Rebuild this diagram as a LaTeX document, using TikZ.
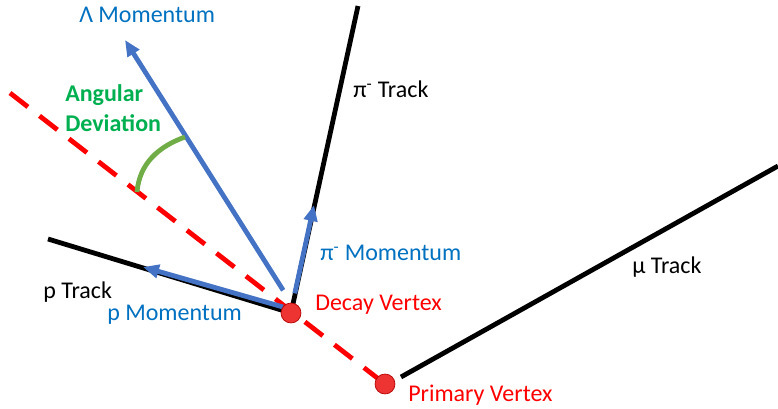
\documentclass[tikz,border=0pt]{standalone}
\usepackage{fontspec}
\setmainfont{Carlito}
\usetikzlibrary{arrows.meta}
\definecolor{momblue}{HTML}{4472C4}
\definecolor{labblue}{HTML}{0070C0}
\definecolor{devgreen}{HTML}{00B050}
\definecolor{arcgreen}{HTML}{70AD47}
\definecolor{vtxred}{HTML}{EE3333}

\begin{document}
\begin{tikzpicture}[x=0.75pt,y=0.75pt,
  track/.style={line width=3.6pt, black},
  momentum/.style={line width=3.6pt, momblue, -{Triangle[length=12pt,width=10pt]}},
  flight/.style={line width=3.6pt, red, dash pattern=on 17pt off 11pt},
  vertex/.style={circle, fill=vtxred, draw=red!70!black, line width=0.5pt, minimum size=15pt, inner sep=0pt},
  lbl/.style={anchor=base west, inner sep=0pt}]
\fontsize{18}{22.5}\selectfont
\useasboundingbox (0,0) rectangle (778,409);
\coordinate (dv) at (291,96);
\coordinate (pv) at (385,25);
\coordinate (far) at (10,316);
\coordinate (lamtip) at (125,369);
\coordinate (pitip) at (314,204);
\coordinate (piend) at (358,403);
\coordinate (ptip) at (143,142);
\coordinate (pend) at (48,170);
\coordinate (mustart) at (401,32);
\coordinate (muend) at (778,243);
\coordinate (arcA) at (137,217);
\coordinate (arcB) at (185,272);
\draw[flight] (far) -- (pv);
\draw[track] (dv) -- (piend);
\draw[track] (dv) -- (pend);
\draw[track] (mustart) -- (muend);
\draw[momentum] ([shift={(109:24)}]dv) -- (lamtip);
\draw[momentum] ([shift={(79:20)}]dv) -- (pitip);
\draw[momentum] ([shift={(143:10)}]dv) -- (ptip);
\draw[line width=3.6pt, arcgreen] (arcA) to[out=85, in=200] (arcB);
\node[vertex] (dvx) at (dv) {};
\node[vertex] (pvx) at (pv) {};
\node[lbl, labblue] (lamlbl) at (79,386) {Λ Momentum};
\node[anchor=west, inner sep=0pt, devgreen, font=\bfseries, align=left] (devlbl) at (65,301) {Angular\\Deviation};
\node[lbl] (pitrk) at (353,311) {π\textsuperscript{-} Track};
\node[lbl, labblue] (pimom) at (320,148) {π\textsuperscript{-} Momentum};
\node[lbl] (ptrk) at (43,110) {p Track};
\node[lbl, labblue] (pmom) at (107,88) {p Momentum};
\node[lbl, red] (dvlbl) at (315,98) {Decay Vertex};
\node[lbl, red] (pvlbl) at (408,7) {Primary Vertex};
\node[lbl] (mutrk) at (632,135) {μ Track};
\end{tikzpicture}
\end{document}
